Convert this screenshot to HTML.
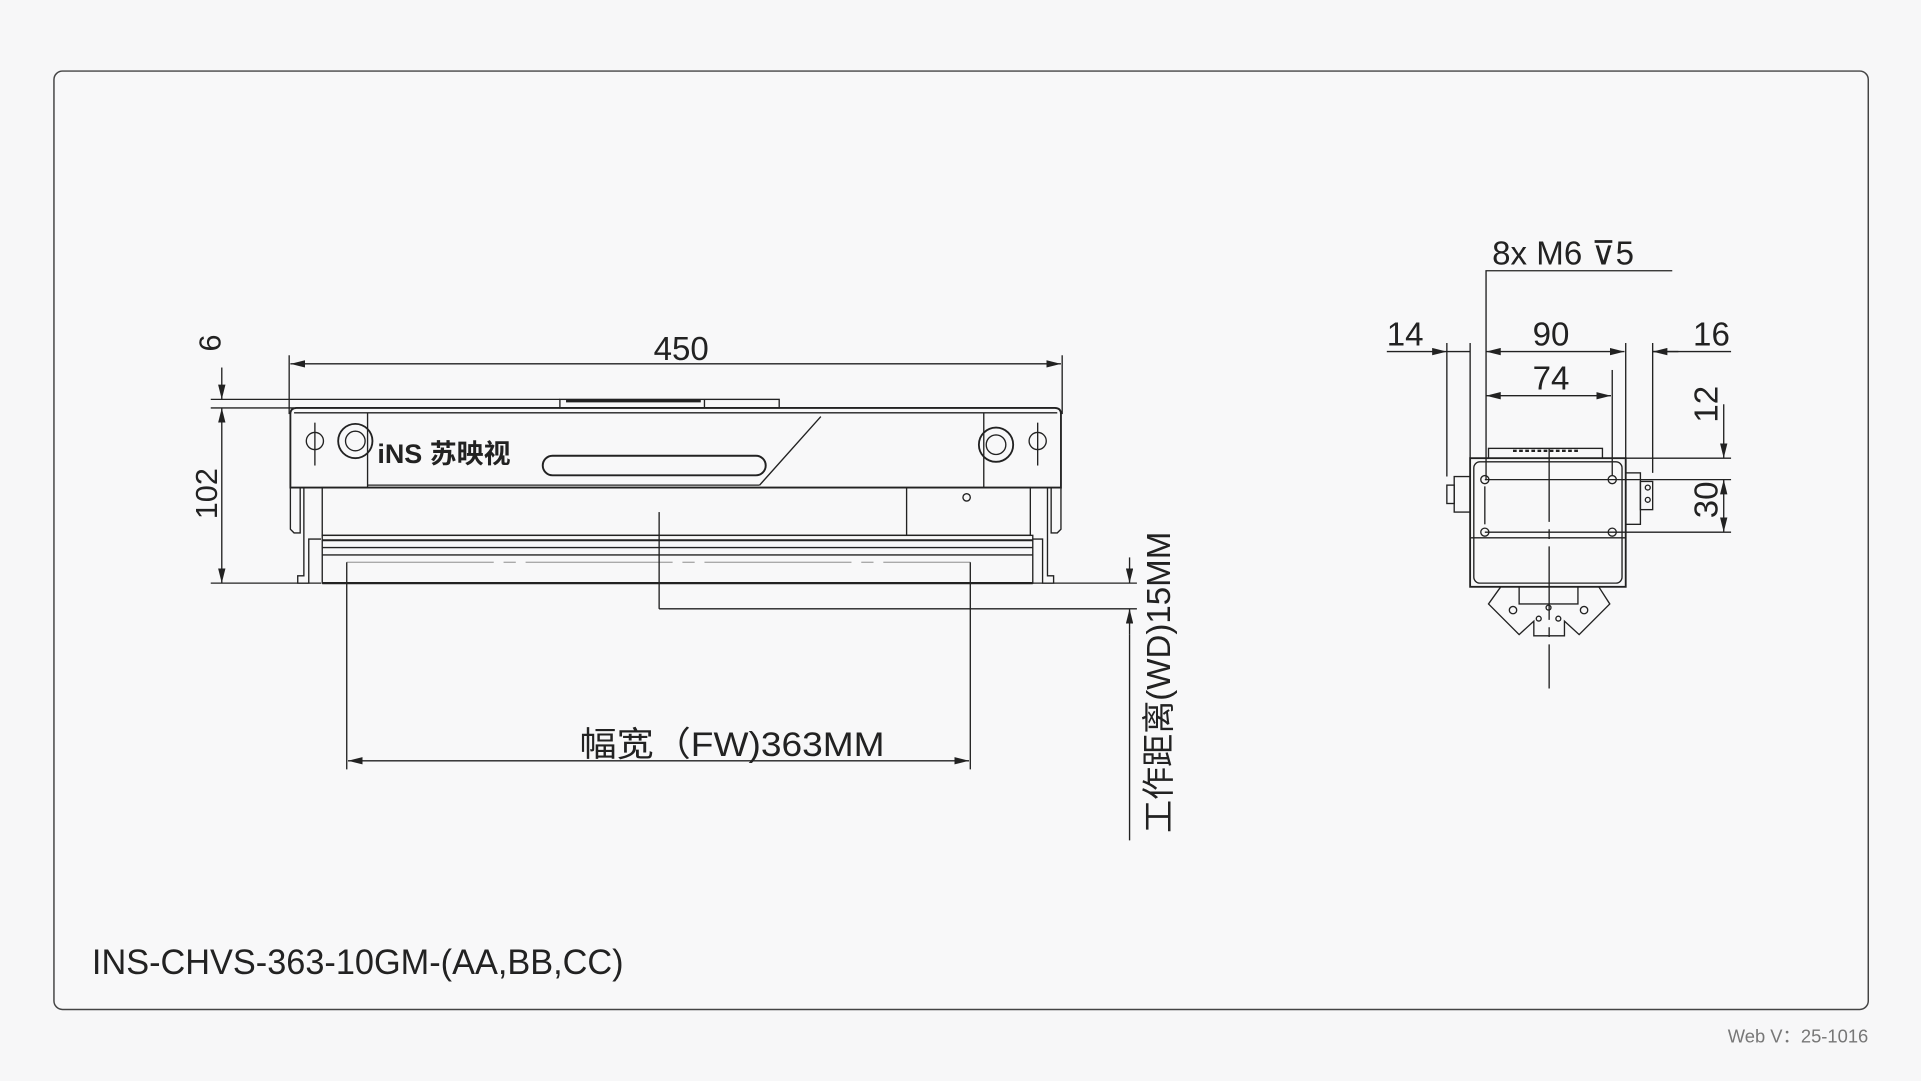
<!DOCTYPE html>
<html><head><meta charset="utf-8"><style>
html,body{margin:0;padding:0;background:#f7f7f8;}
svg{display:block}
text{font-family:"Liberation Sans","Noto Sans CJK SC",sans-serif;fill:#222}
</style></head><body>
<svg width="1921" height="1081" viewBox="0 0 1568 882.4" xmlns="http://www.w3.org/2000/svg">
<defs>
<marker id="a" viewBox="0 0 12 6" refX="12" refY="3" markerWidth="12" markerHeight="6" orient="auto-start-reverse" markerUnits="userSpaceOnUse"><path d="M0,0L12,3L0,6z" fill="#222"/></marker>
</defs>
<rect x="0" y="0" width="1568" height="882.4" fill="#f7f7f8"/>
<rect x="44" y="58" width="1481" height="766" rx="7" fill="#f8f8f9" stroke="#444" stroke-width="1.2"/>
<text x="1525" y="851" font-size="15" text-anchor="end" style="fill:#777">Web V：25-1016</text>

<g stroke="#222" stroke-width="1.1" fill="none">
<line x1="236" y1="290" x2="236" y2="338"/><line x1="867" y1="290" x2="867" y2="338"/>
<line x1="237" y1="297" x2="866" y2="297" marker-start="url(#a)" marker-end="url(#a)"/>
<line x1="172" y1="326" x2="457" y2="326"/><line x1="172" y1="333" x2="240" y2="333"/>
<line x1="172" y1="476" x2="262" y2="476"/>
<line x1="181" y1="300" x2="181" y2="326" marker-end="url(#a)"/>
<line x1="181" y1="333" x2="181" y2="476" marker-start="url(#a)" marker-end="url(#a)"/>
<rect x="457" y="326" width="179" height="7"/><line x1="575" y1="326" x2="575" y2="333"/>
<line x1="462" y1="327.5" x2="572" y2="327.5" stroke-width="2"/>
<path d="M237,398 V338 Q237,333 242,333 H861 Q866,333 866,338 V398 Z" stroke-width="1.5"/>
<line x1="240" y1="337" x2="863" y2="337"/>
<line x1="300" y1="337" x2="300" y2="398"/><line x1="803" y1="337" x2="803" y2="398"/>
<line x1="300" y1="396" x2="620" y2="396"/>
<line x1="670" y1="340" x2="620" y2="396"/>
<rect x="443" y="372" width="182" height="16" rx="8" stroke-width="1.6"/>
<circle cx="290" cy="360" r="14" stroke-width="1.5"/><circle cx="290" cy="360" r="8"/>
<circle cx="813" cy="363" r="14" stroke-width="1.5"/><circle cx="813" cy="363" r="8"/>
<circle cx="257" cy="360" r="7"/><line x1="257" y1="345" x2="257" y2="380"/>
<circle cx="847" cy="360" r="7"/><line x1="847" y1="345" x2="847" y2="380"/>
<rect x="263" y="398" width="578" height="39"/>
<line x1="740" y1="398" x2="740" y2="437"/>
<circle cx="789" cy="406" r="3"/>
<path d="M237,398 V432 L240,435 H245 V398"/><path d="M866,398 V432 L863,435 H858 V398"/>
<path d="M248,398 V470 H243 V476 H252 V440 H262"/><path d="M855,398 V470 H860 V476 H851 V440 H843"/>
<rect x="263" y="437" width="580" height="39"/>
<line x1="263" y1="441" x2="843" y2="441" stroke-width="1.6"/>
<line x1="263" y1="447" x2="843" y2="447"/>
<line x1="263" y1="453" x2="843" y2="453"/>
<line x1="263" y1="476" x2="843" y2="476" stroke-width="1.8"/>
<line x1="283" y1="459" x2="792" y2="459" stroke="#aaa" stroke-dasharray="120,8,10,8"/>
<line x1="538" y1="418" x2="538" y2="497"/>
<line x1="538" y1="497" x2="928" y2="497"/>
<line x1="843" y1="476" x2="928" y2="476"/>
<line x1="922" y1="455" x2="922" y2="476" marker-end="url(#a)"/>
<line x1="922" y1="518" x2="922" y2="497" marker-end="url(#a)"/>
<line x1="922" y1="518" x2="922" y2="686"/>
<line x1="283" y1="459" x2="283" y2="628"/><line x1="792" y1="459" x2="792" y2="628"/>
<line x1="284" y1="621" x2="791" y2="621" marker-start="url(#a)" marker-end="url(#a)"/>

<polyline points="1213,392 1213,221 1365,221"/>
<line x1="1132" y1="287" x2="1181" y2="287" marker-end="url(#a)"/>
<line x1="1181" y1="287" x2="1200" y2="287"/>
<line x1="1213" y1="287" x2="1326" y2="287" marker-start="url(#a)" marker-end="url(#a)"/>
<line x1="1349" y1="287" x2="1413" y2="287"/>
<line x1="1370" y1="287" x2="1349" y2="287" marker-end="url(#a)"/>
<line x1="1181" y1="280" x2="1181" y2="389"/>
<line x1="1200" y1="280" x2="1200" y2="374"/>
<line x1="1327" y1="280" x2="1327" y2="374"/>
<line x1="1349" y1="280" x2="1349" y2="386"/>
<line x1="1316" y1="302" x2="1316" y2="388"/>
<line x1="1213" y1="323" x2="1315" y2="323" marker-start="url(#a)" marker-end="url(#a)"/>
<rect x="1200" y="374" width="127" height="105" stroke-width="1.5"/>
<rect x="1203" y="377" width="121" height="99" rx="5"/>
<line x1="1200" y1="439" x2="1327" y2="439"/>
<rect x="1215" y="366" width="93" height="8"/>
<line x1="1235" y1="368" x2="1290" y2="368" stroke-width="2" stroke-dasharray="3,2"/>
<circle cx="1212" cy="391.5" r="3.3"/><circle cx="1316" cy="391.5" r="3.3"/>
<circle cx="1212" cy="434.4" r="3.3"/><circle cx="1316" cy="434.4" r="3.3"/>
<line x1="1327" y1="374" x2="1413" y2="374"/>
<line x1="1212" y1="391.5" x2="1413" y2="391.5"/>
<line x1="1212" y1="434.4" x2="1413" y2="434.4"/>
<line x1="1212" y1="397" x2="1212" y2="428"/>
<line x1="1407" y1="330" x2="1407" y2="374" marker-end="url(#a)"/>
<line x1="1407" y1="391.5" x2="1407" y2="434.4" marker-start="url(#a)" marker-end="url(#a)"/>
<rect x="1187" y="389" width="13" height="29"/><rect x="1181" y="396" width="6" height="15"/>
<rect x="1327" y="386" width="12" height="42"/><rect x="1339" y="393" width="10" height="23"/>
<circle cx="1345" cy="398" r="2"/><circle cx="1345" cy="408" r="2"/>
<path d="M1225,479 L1215,493 L1240,518 L1252,507 V519 H1277 V507 L1289,518 L1314,493 L1305,479"/>
<rect x="1240" y="479" width="48" height="14"/>
<circle cx="1235" cy="498" r="3"/><circle cx="1293" cy="498" r="3"/>
<circle cx="1264" cy="496" r="2"/><circle cx="1256" cy="505" r="2"/><circle cx="1272" cy="505" r="2"/>
<line x1="1264.5" y1="366" x2="1264.5" y2="562" stroke-dasharray="60,6,8,6"/>
</g>

<text x="556" y="294" font-size="27" text-anchor="middle">450</text>
<text transform="translate(180,280) rotate(-90)" font-size="25" text-anchor="middle">6</text>
<text transform="translate(177,403) rotate(-90)" font-size="25" text-anchor="middle">102</text>
<text x="308" y="378" font-size="22" font-weight="bold">iNS 苏映视</text>
<text x="473" y="617" font-size="28" textLength="249" lengthAdjust="spacingAndGlyphs">幅宽（FW)363MM</text>
<text transform="translate(955,557) rotate(-90)" font-size="27" text-anchor="middle">工作距离(WD)15MM</text>
<text x="75" y="795" font-size="29" textLength="434" lengthAdjust="spacingAndGlyphs">INS-CHVS-363-10GM-(AA,BB,CC)</text>
<text x="1218" y="216" font-size="27">8x  M6 ⊽5</text>
<text x="1147" y="282" font-size="27" text-anchor="middle">14</text>
<text x="1266" y="282" font-size="27" text-anchor="middle">90</text>
<text x="1397" y="282" font-size="27" text-anchor="middle">16</text>
<text x="1266" y="318" font-size="27" text-anchor="middle">74</text>
<text transform="translate(1402,330) rotate(-90)" font-size="27" text-anchor="middle">12</text>
<text transform="translate(1402,408) rotate(-90)" font-size="27" text-anchor="middle">30</text>
</svg>
</body></html>
